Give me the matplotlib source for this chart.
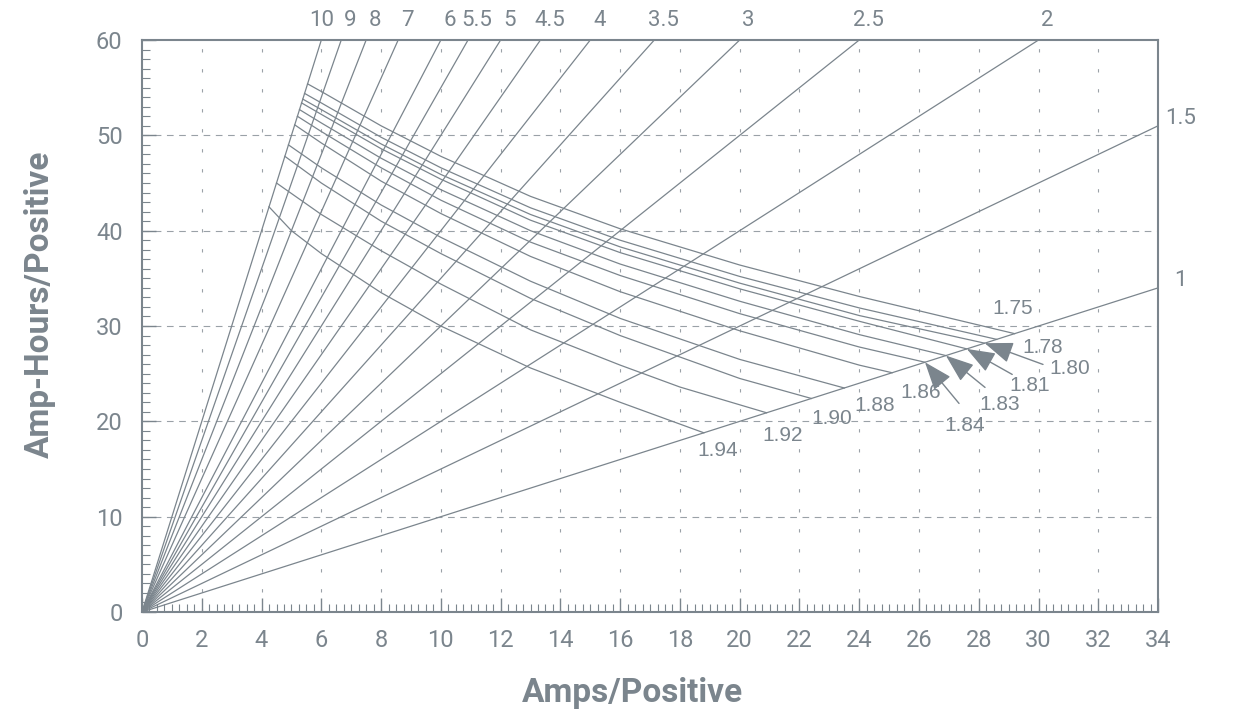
import matplotlib.pyplot as plt
from matplotlib.ticker import MultipleLocator

# ------------------------------------------------------------------
# data
# ------------------------------------------------------------------
# discharge rate lines (hours)
rate_hours = [10, 9, 8, 7, 6, 5.5, 5, 4.5, 4, 3.5, 3, 2.5, 2, 1.5, 1]
rate_labels = ['10', '9', '8', '7', '6', '5.5', '5', '4.5', '4', '3.5', '3', '2.5', '2', '1.5', '1']

# final-voltage curves: amps / amp-hours per positive
volts = ['1.75', '1.78', '1.80', '1.81', '1.83', '1.84', '1.86', '1.88', '1.90', '1.92', '1.94']
amps_175 = [5.54, 6, 8, 10, 13, 16, 20, 24, 29.2]
ah_175 = [55.4, 54.6, 51.0, 47.8, 43.6, 40.2, 36.4, 33.1, 29.2]
amps_178 = [5.44, 6, 8, 10, 13, 16, 20, 24, 28.6]
ah_178 = [54.4, 53.4, 49.8, 46.6, 42.4, 39.0, 35.2, 31.9, 28.6]
amps_180 = [5.38, 6, 8, 10, 13, 16, 20, 24, 28.2]
ah_180 = [53.8, 52.7, 49.1, 45.9, 41.7, 38.3, 34.5, 31.1, 28.2]
amps_181 = [5.34, 6, 8, 10, 13, 16, 20, 24, 27.6]
ah_181 = [53.4, 52.2, 48.6, 45.4, 41.1, 37.7, 33.9, 30.5, 27.6]
amps_183 = [5.27, 6, 8, 10, 13, 16, 20, 24, 26.9]
ah_183 = [52.7, 51.3, 47.6, 44.3, 40.0, 36.5, 32.6, 29.1, 26.9]
amps_184 = [5.20, 6, 8, 10, 13, 16, 20, 24, 26.2]
ah_184 = [52.0, 50.4, 46.6, 43.2, 38.8, 35.3, 31.3, 27.8, 26.2]
amps_186 = [5.11, 6, 8, 10, 13, 16, 20, 24, 25.1]
ah_186 = [51.1, 49.2, 45.2, 41.8, 37.3, 33.6, 29.5, 25.9, 25.1]
amps_188 = [4.90, 6, 8, 10, 13, 16, 20, 23.5]
ah_188 = [49.0, 46.6, 42.7, 39.3, 34.7, 30.8, 26.5, 23.5]
amps_190 = [4.78, 6, 8, 10, 13, 16, 20, 22.4]
ah_190 = [47.8, 45.0, 41.0, 37.6, 32.9, 29.0, 24.5, 22.4]
amps_192 = [4.50, 6, 8, 10, 13, 16, 18, 20.9]
ah_192 = [45.0, 41.7, 37.9, 34.4, 29.6, 25.9, 23.6, 20.9]
amps_194 = [4.25, 5, 6, 8, 10, 13, 16, 18.8]
ah_194 = [42.5, 40.0, 37.6, 33.5, 30.0, 25.6, 22.0, 18.8]

curve_amps = [amps_175, amps_178, amps_180, amps_181, amps_183, amps_184,
              amps_186, amps_188, amps_190, amps_192, amps_194]
curve_ah = [ah_175, ah_178, ah_180, ah_181, ah_183, ah_184,
            ah_186, ah_188, ah_190, ah_192, ah_194]

X_MAX, Y_MAX = 34, 60
GREY = '#7b858d'

plt.rcParams['font.family'] = ['Roboto', 'DejaVu Sans']

fig = plt.figure(figsize=(12.35, 7.17), dpi=100, facecolor='white')
ax = fig.add_axes([0.115, 0.1464, 0.8227, 0.7978])
ax.set_xlim(0, X_MAX)
ax.set_ylim(0, Y_MAX)

# grid
for gx in range(2, X_MAX, 2):
    ax.axvline(gx, color='#9aa1a7', lw=0.8, linestyle=(0, (3, 15)), zorder=1)
for gy in range(10, Y_MAX, 10):
    ax.axhline(gy, color='#9aa1a7', lw=0.8, linestyle=(0, (6, 5)), zorder=1)

# rate lines from the origin
for h, lab in zip(rate_hours, rate_labels):
    x_end = min(X_MAX, Y_MAX / h)
    ax.plot([0, x_end], [0, h * x_end], color=GREY, lw=0.9, zorder=2,
            solid_capstyle='butt')
    if h * X_MAX > Y_MAX:
        dx = 0 if h == 10 else 0.3
        ax.text(x_end + dx, 62.0, lab, ha='center', va='center', fontsize=16,
                color=GREY, clip_on=False)
    else:
        ax.text(X_MAX + 0.75, h * X_MAX + 0.8, lab, ha='center', va='center',
                fontsize=16, color=GREY, clip_on=False)

# final voltage curves
for xs, ys in zip(curve_amps, curve_ah):
    ax.plot(xs, ys, color=GREY, lw=0.9, zorder=3)

# curve labels
lab_font = dict(fontsize=15, color=GREY, family=['Liberation Sans', 'DejaVu Sans'],
                ha='center', va='center')
ax.text(29.12, 31.85, '1.75', **lab_font)
ax.text(30.15, 27.75, '1.78', **lab_font)
ax.text(26.04, 23.03, '1.86', **lab_font)
ax.text(24.53, 21.67, '1.88', **lab_font)
ax.text(23.09, 20.30, '1.90', **lab_font)
ax.text(21.45, 18.52, '1.92', **lab_font)
ax.text(19.28, 16.95, '1.94', **lab_font)

arrow_props = dict(arrowstyle='-|>,head_length=0.8,head_width=0.3',
                   mutation_scale=22, color=GREY, lw=1.0, shrinkA=0, shrinkB=0)
for v, xy, tail, pos in [('1.80', (28.2, 28.2), (30.15, 25.97), (31.06, 25.55)),
                         ('1.81', (27.6, 27.6), (29.12, 24.92), (29.72, 23.77)),
                         ('1.83', (26.9, 26.9), (28.21, 23.56), (28.71, 21.77)),
                         ('1.84', (26.2, 26.2), (27.34, 21.88), (27.54, 19.57))]:
    ax.annotate('', xy=xy, xytext=tail, arrowprops=arrow_props, zorder=4)
    ax.text(pos[0], pos[1], v, **lab_font)

# axes styling
for s in ax.spines.values():
    s.set_color(GREY)
    s.set_linewidth(1.5)
ax.set_xticks(range(0, X_MAX + 1, 2))
ax.set_yticks(range(0, Y_MAX + 1, 10))
ax.xaxis.set_minor_locator(MultipleLocator(0.25))
ax.yaxis.set_minor_locator(MultipleLocator(1))
ax.tick_params(which='both', direction='in', color=GREY, top=False, right=False)
ax.tick_params(which='major', length=10, width=1.0, labelsize=17, labelcolor=GREY, pad=12)
ax.tick_params(which='minor', length=6, width=0.8)
ax.tick_params(axis='y', which='major', pad=14)

fig.text(0.512, 0.033, 'Amps/Positive', ha='center', va='center', fontsize=24,
         fontweight='bold', color=GREY)
fig.text(0.032, 0.575, 'Amp-Hours/Positive', ha='center', va='center', fontsize=24,
         fontweight='bold', color=GREY, rotation=90)

fig.savefig('out.png', dpi=100, facecolor='white')
